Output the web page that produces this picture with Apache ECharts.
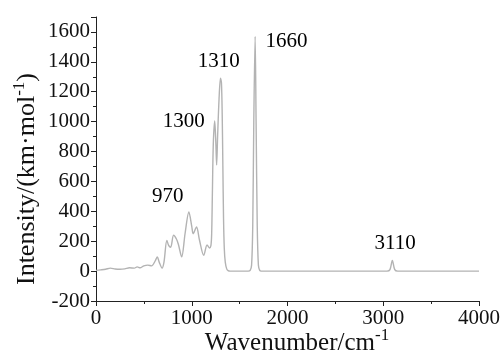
<!DOCTYPE html>
<html>
<head>
<meta charset="utf-8">
<script src="https://cdn.jsdelivr.net/npm/echarts@6/dist/echarts.min.js"></script>
<style>
html,body{margin:0;padding:0;background:#fff;}
#c{width:503px;height:354px;}
</style>
</head>
<body>
<div id="c"></div>
<script>
// Wavenumber (cm^-1) and intensity (km/mol)
var wavenumbers = [0,50,100,150,200,250,300,350,400,430,460,500,540,580,620,640,660,690,710,740,760,780,810,840,860,895,930,970,1000,1015,1050,1080,1125,1160,1185,1200,1208,1215,1225,1240,1252,1260,1270,1285,1300,1310,1318,1325,1332,1340,1350,1365,1380,1400,1590,1610,1625,1637,1648,1662,1672,1684,1696,1710,1725,3040,3070,3095,3120,3150,4000];
var intensities = [5,8,12,20,14,12,15,22,20,28,22,35,40,35,70,95,60,20,60,205,170,160,240,215,180,95,250,395,300,250,295,210,105,175,155,170,250,500,850,1005,850,710,900,1150,1290,1260,1050,700,350,150,60,15,3,0,0,5,40,300,1000,1570,1000,300,40,5,0,0,10,72,10,0,0];

// Peak annotations
var peakLabels = ['970','1300','1310','1660','3110'];
var labelX = [750, 917, 1281, 1990, 3125];
var labelY = [500, 1003, 1405, 1538, 187];

var xTicks = {min: 0, max: 4000, interval: 1000};
var yTicks = {min: -200, max: 1700, interval: 200};

var lineData = wavenumbers.map(function (w, i) { return [w, intensities[i]]; });
var labelData = peakLabels.map(function (t, i) { return [labelX[i], labelY[i], t]; });

var FONT = '"Liberation Serif", "Times New Roman", serif';
var plain = function (v) { return String(v); };
var chart = echarts.init(document.getElementById('c'), null, {renderer: 'canvas'});
chart.setOption({
  animation: false,
  backgroundColor: '#fff',
  grid: {left: 96, right: 23, top: 17, bottom: 53, containLabel: false},
  xAxis: {
    type: 'value', min: xTicks.min, max: xTicks.max, interval: xTicks.interval,
    axisLine: {show: true, onZero: false, lineStyle: {color: '#222', width: 1}},
    axisTick: {show: true, length: 5, lineStyle: {color: '#222'}},
    minorTick: {show: true, splitNumber: 2, length: 3, lineStyle: {color: '#222'}},
    splitLine: {show: false},
    axisLabel: {color: '#111', fontFamily: FONT, fontSize: 21, margin: 7, formatter: plain}
  },
  yAxis: {
    type: 'value', min: yTicks.min, max: yTicks.max, interval: yTicks.interval,
    axisLine: {show: true, onZero: false, lineStyle: {color: '#222', width: 1}},
    axisTick: {show: true, length: 5, lineStyle: {color: '#222'}},
    minorTick: {show: true, splitNumber: 2, length: 3, lineStyle: {color: '#222'}},
    splitLine: {show: false},
    axisLabel: {color: '#111', fontFamily: FONT, fontSize: 21, margin: 6, showMaxLabel: false, formatter: plain}
  },
  graphic: [
    {type: 'text', x: 297, y: 343,
     style: {rich: {a: {fontFamily: FONT, fontSize: 25, fill: '#111'}, s: {fontFamily: FONT, fontSize: 17, fill: '#111', padding: [0,0,14,0]}},
       text: '{a|Wavenumber/cm}{s|-1}', align: 'center', verticalAlign: 'middle'}
    },
    {type: 'text', x: 27, y: 179, rotation: Math.PI / 2,
     style: {rich: {a: {fontFamily: FONT, fontSize: 26, fill: '#111'}, s: {fontFamily: FONT, fontSize: 17, fill: '#111', padding: [0,0,14,0]}},
       text: '{a|Intensity/(km·mol}{s|-1}{a|)}', align: 'center', verticalAlign: 'middle'}
    }
  ],
  series: [
    {type: 'line', data: lineData, showSymbol: false, symbol: 'none', smooth: 0.3,
     lineStyle: {color: '#b3b3b3', width: 1.4}, z: 2},
    {type: 'scatter', data: labelData, symbolSize: 0, silent: true,
     itemStyle: {opacity: 1},
     label: {show: true, position: 'inside', formatter: function (p) { return p.value[2]; },
       fontFamily: FONT, fontSize: 21, color: '#000', opacity: 1}, z: 3}
  ]
});
</script>
</body>
</html>
